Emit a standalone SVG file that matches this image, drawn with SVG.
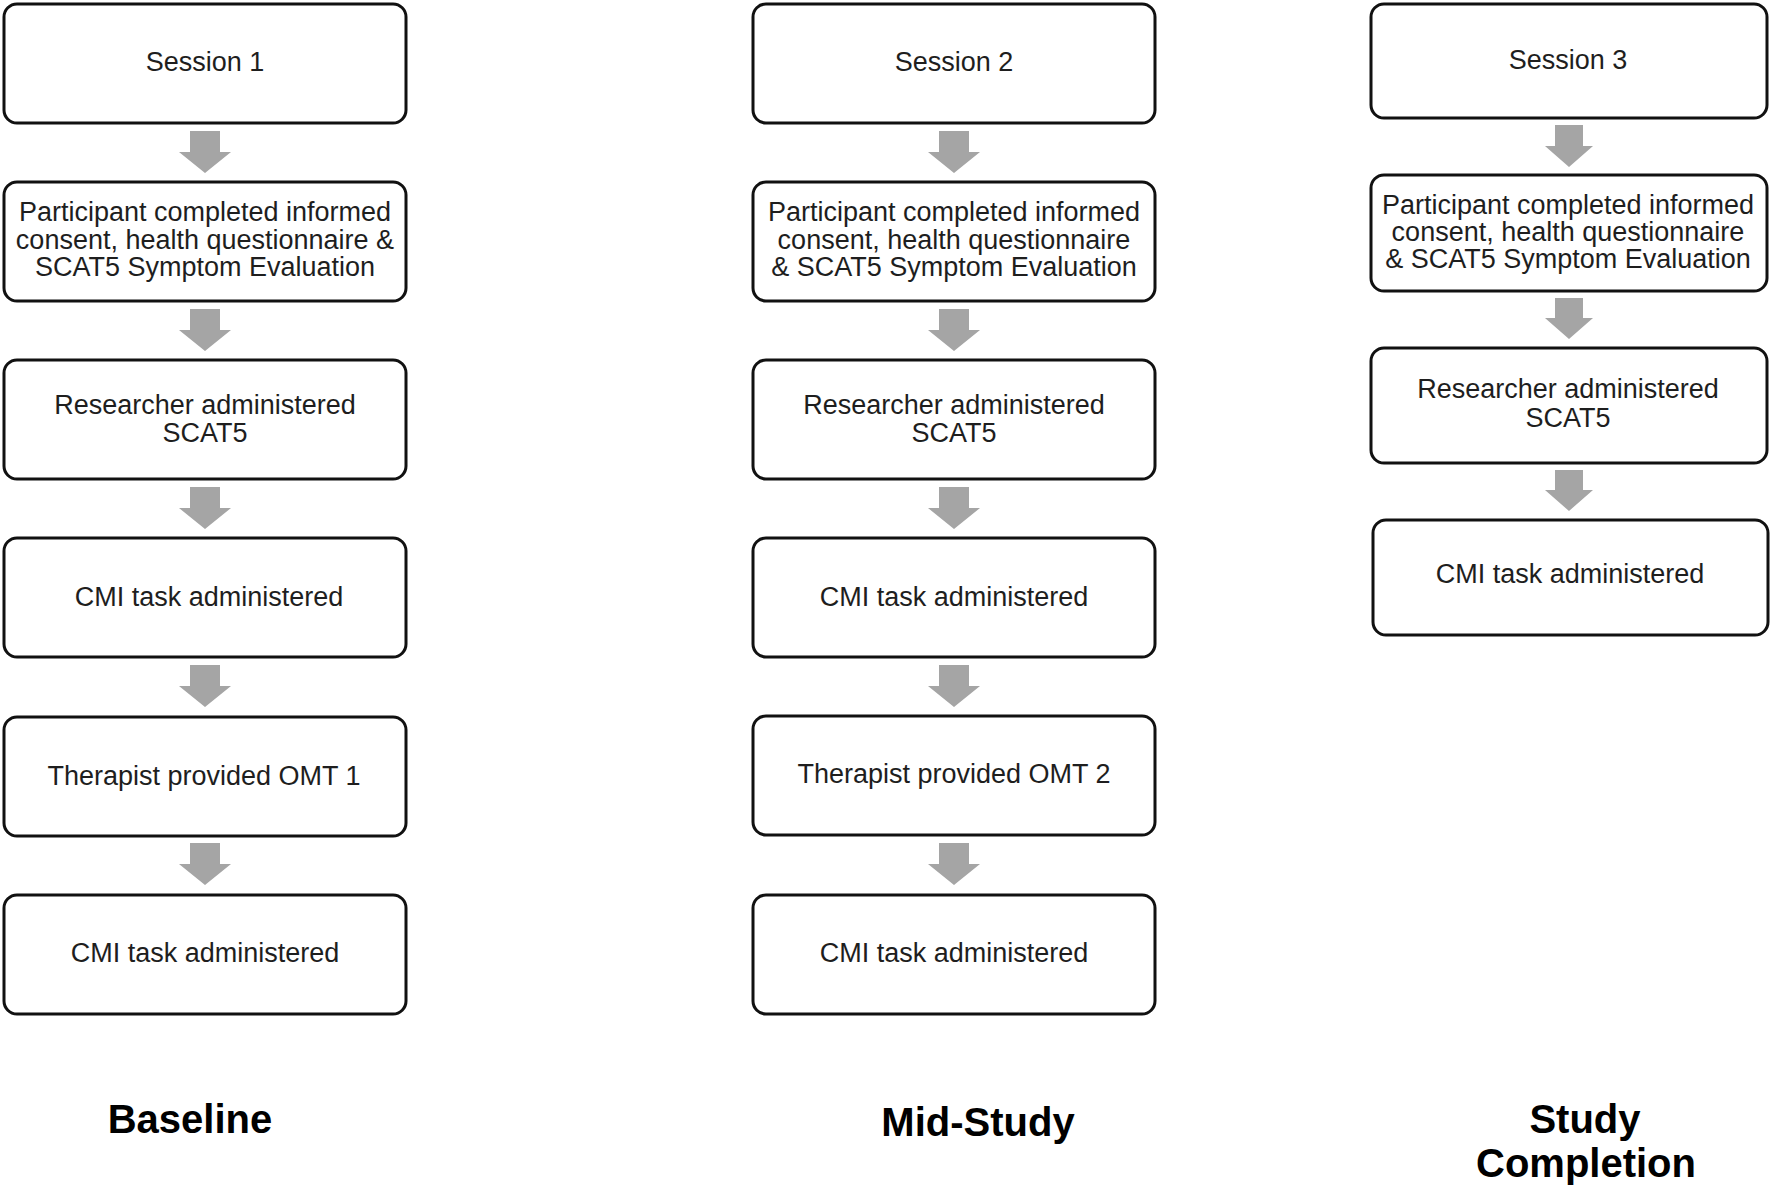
<svg xmlns="http://www.w3.org/2000/svg" width="1770" height="1190" viewBox="0 0 1770 1190">
<style>
.box{fill:#fff;stroke:#111;stroke-width:3}
.t{font-family:"Liberation Sans",Arial,sans-serif;font-size:27px;fill:#1e1e1e;text-anchor:middle}
.lbl{font-family:"Liberation Sans",Arial,sans-serif;font-size:40px;font-weight:bold;fill:#000;text-anchor:middle}
.arr{fill:#a5a5a5}
</style>
<rect width="1770" height="1190" fill="#fff"/>
<g id="connectors">
<path class="arr" d="M190 131H220V152H231L205 173L179 152H190Z"/>
<path class="arr" d="M190 309H220V330H231L205 351L179 330H190Z"/>
<path class="arr" d="M190 487H220V508H231L205 529L179 508H190Z"/>
<path class="arr" d="M190 665H220V686H231L205 707L179 686H190Z"/>
<path class="arr" d="M190 843H220V864H231L205 885L179 864H190Z"/>
<path class="arr" d="M939 131H969V152H980L954 173L928 152H939Z"/>
<path class="arr" d="M939 309H969V330H980L954 351L928 330H939Z"/>
<path class="arr" d="M939 487H969V508H980L954 529L928 508H939Z"/>
<path class="arr" d="M939 665H969V686H980L954 707L928 686H939Z"/>
<path class="arr" d="M939 843H969V864H980L954 885L928 864H939Z"/>
<path class="arr" d="M1555 125H1583V146H1593L1569 167L1545 146H1555Z"/>
<path class="arr" d="M1555 298H1583V318H1593L1569 339L1545 318H1555Z"/>
<path class="arr" d="M1555 470H1583V490H1593L1569 511L1545 490H1555Z"/>
</g>
<g id="b1"><rect class="box" x="4" y="4" width="402" height="119" rx="13"/><text class="t" x="205" y="71">Session 1</text></g>
<g id="b2"><rect class="box" x="4" y="182" width="402" height="119" rx="13"/><text class="t" x="205" y="221">Participant completed informed</text><text class="t" x="205" y="249">consent, health questionnaire &amp;</text><text class="t" x="205" y="276">SCAT5 Symptom Evaluation</text></g>
<g id="b3"><rect class="box" x="4" y="360" width="402" height="119" rx="13"/><text class="t" x="205" y="414">Researcher administered</text><text class="t" x="205" y="442">SCAT5</text></g>
<g id="b4"><rect class="box" x="4" y="538" width="402" height="119" rx="13"/><text class="t" x="209" y="606">CMI task administered</text></g>
<g id="b5"><rect class="box" x="4" y="717" width="402" height="119" rx="13"/><text class="t" x="204" y="785">Therapist provided OMT 1</text></g>
<g id="b6"><rect class="box" x="4" y="895" width="402" height="119" rx="13"/><text class="t" x="205" y="962">CMI task administered</text></g>

<g id="m1"><rect class="box" x="753" y="4" width="402" height="119" rx="13"/><text class="t" x="954" y="71">Session 2</text></g>
<g id="m2"><rect class="box" x="753" y="182" width="402" height="119" rx="13"/><text class="t" x="954" y="221">Participant completed informed</text><text class="t" x="954" y="249">consent, health questionnaire</text><text class="t" x="954" y="276">&amp; SCAT5 Symptom Evaluation</text></g>
<g id="m3"><rect class="box" x="753" y="360" width="402" height="119" rx="13"/><text class="t" x="954" y="414">Researcher administered</text><text class="t" x="954" y="442">SCAT5</text></g>
<g id="m4"><rect class="box" x="753" y="538" width="402" height="119" rx="13"/><text class="t" x="954" y="606">CMI task administered</text></g>
<g id="m5"><rect class="box" x="753" y="716" width="402" height="119" rx="13"/><text class="t" x="954" y="783">Therapist provided OMT 2</text></g>
<g id="m6"><rect class="box" x="753" y="895" width="402" height="119" rx="13"/><text class="t" x="954" y="962">CMI task administered</text></g>

<g id="c1"><rect class="box" x="1371" y="4" width="396" height="114" rx="13"/><text class="t" x="1568" y="69">Session 3</text></g>
<g id="c2"><rect class="box" x="1371" y="175" width="396" height="116" rx="13"/><text class="t" x="1568" y="214">Participant completed informed</text><text class="t" x="1568" y="241">consent, health questionnaire</text><text class="t" x="1568" y="268">&amp; SCAT5 Symptom Evaluation</text></g>
<g id="c3"><rect class="box" x="1371" y="348" width="396" height="115" rx="13"/><text class="t" x="1568" y="398">Researcher administered</text><text class="t" x="1568" y="427">SCAT5</text></g>
<g id="c4"><rect class="box" x="1373" y="520" width="395" height="115" rx="13"/><text class="t" x="1570" y="583">CMI task administered</text></g>

<g id="labels">
<text class="lbl" x="190" y="1133">Baseline</text>
<text class="lbl" x="978" y="1136">Mid-Study</text>
<text class="lbl" x="1585" y="1133">Study</text>
<text class="lbl" x="1586" y="1177">Completion</text>
</g>
</svg>
